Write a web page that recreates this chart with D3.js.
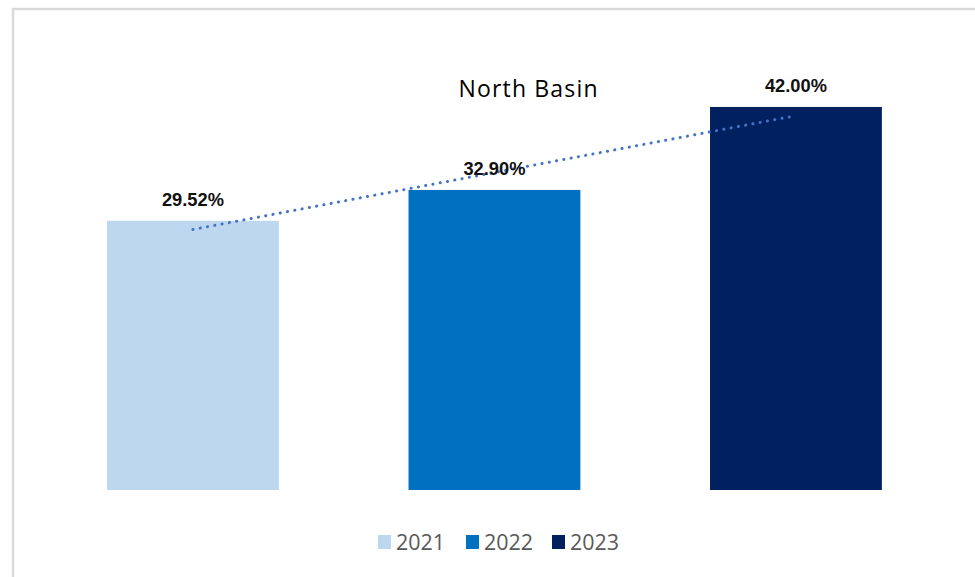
<!DOCTYPE html>
<html>
<head>
<meta charset="utf-8">
<script src="https://cdn.jsdelivr.net/npm/d3@7"></script>
<style>
  body { margin: 0; background: #fff; }
</style>
</head>
<body>
<div id="chart"></div>
<script>
const years = ["2021", "2022", "2023"];
const values = [29.52, 32.90, 42.00];
const colors = ["#BDD7EE", "#0070C0", "#002060"];
const chartTitle = "North Basin";

const W = 975, H = 577;
const baseY = 490, topY = 79.6;

const svg = d3.select("#chart")
              .append("svg")
              .attr("width", W)
              .attr("height", H);

// frame
svg.append("rect")
   .attr("x", 13)
   .attr("y", 9)
   .attr("width", 980)
   .attr("height", 600)
   .attr("fill", "#fff")
   .attr("stroke", "#d9d9d9")
   .attr("stroke-width", 2.5);

const x = d3.scaleBand()
            .domain(years)
            .range([42.2, 946.7])
            .paddingInner(0.43)
            .paddingOuter(0.215);

const y = d3.scaleLinear()
            .domain([0, 45])
            .range([baseY, topY]);

svg.append("text")
   .attr("x", 528)
   .attr("y", 97)
   .attr("text-anchor", "middle")
   .style("font-family", "'Open Sans', sans-serif")
   .style("font-size", "23px")
   .attr("fill", "#000")
   .attr("textLength", 139)
   .text(chartTitle);

svg.selectAll(".bar")
   .data(years)
   .enter()
   .append("rect")
   .attr("class", "bar")
   .attr("x", d => x(d))
   .attr("y", (d, i) => y(values[i]))
   .attr("width", x.bandwidth())
   .attr("height", (d, i) => baseY - y(values[i]))
   .attr("fill", (d, i) => colors[i]);

// linear trendline through the three bars
const xs = [1, 2, 3];
const mx = d3.mean(xs), my = d3.mean(values);
const slope = d3.sum(xs, (v, i) => (v - mx) * (values[i] - my)) / d3.sum(xs, v => (v - mx) ** 2);
const icpt = my - slope * mx;
const trend = years.map((d, i) => [x(d) + x.bandwidth() / 2, y(icpt + slope * xs[i])]);

svg.append("path")
   .attr("d", d3.line()([trend[0], trend[2]]))
   .attr("fill", "none")
   .attr("stroke", "#4472C4")
   .attr("stroke-width", 3)
   .attr("stroke-linecap", "round")
   .attr("stroke-dasharray", "0.1 7.3");

svg.selectAll(".label")
   .data(years)
   .enter()
   .append("text")
   .attr("x", d => x(d) + x.bandwidth() / 2)
   .attr("y", (d, i) => y(values[i]) - 15)
   .attr("text-anchor", "middle")
   .style("font-family", "'Liberation Sans', Arial, sans-serif")
   .style("font-weight", "bold")
   .style("font-size", "18px")
   .attr("fill", "#111")
   .attr("textLength", 62)
   .attr("lengthAdjust", "spacingAndGlyphs")
   .text((d, i) => d3.format(".2f")(values[i]) + "%");

// legend
const legend = svg.append("g").attr("transform", "translate(378,542)");
const itemX = [0, 88, 174];
years.forEach((d, i) => {
  const g = legend.append("g").attr("transform", `translate(${itemX[i]},0)`);
  g.append("rect")
   .attr("x", 0).attr("y", -7)
   .attr("width", 13).attr("height", 14)
   .attr("fill", colors[i]);
  g.append("text")
   .attr("x", 18)
   .attr("y", 8)
   .style("font-family", "'Open Sans', sans-serif")
   .style("font-size", "22px")
   .attr("fill", "#595959")
   .attr("textLength", 49)
   .attr("lengthAdjust", "spacingAndGlyphs")
   .text(d);
});
</script>
</body>
</html>
